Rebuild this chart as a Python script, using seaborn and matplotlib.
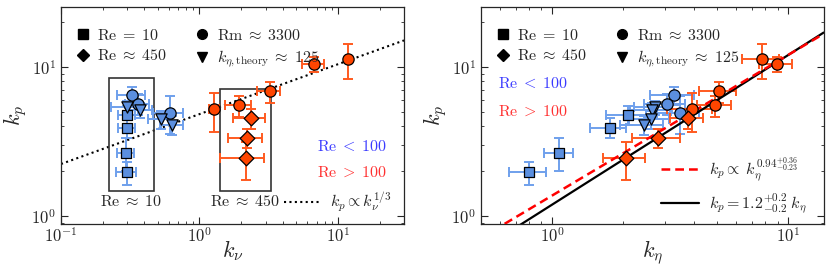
import numpy as np
import pandas as pd
import matplotlib
matplotlib.use("Agg")
import matplotlib.pyplot as plt
import seaborn as sns
from matplotlib.lines import Line2D
from matplotlib.patches import Rectangle

sns.set_style("ticks")
plt.rcParams["font.family"] = "serif"
plt.rcParams["font.serif"] = ["cmr10", "DejaVu Serif"]
plt.rcParams["mathtext.fontset"] = "cm"
plt.rcParams["axes.formatter.use_mathtext"] = True

# --- data ---
group = ["sq", "sq", "sq", "sq",
         "ci_lo", "ci_lo", "ci_lo",
         "tri", "tri", "tri", "tri",
         "ci_hi", "ci_hi", "ci_hi", "ci_hi", "ci_hi",
         "di", "di", "di"]
regime = ["low"] * 11 + ["high"] * 8
k_p = [1.97, 2.67, 3.92, 4.76,
       6.47, 5.64, 4.94,
       5.35, 5.15, 4.45, 4.08,
       5.19, 5.52, 6.85, 10.4, 11.2,
       4.56, 3.35, 2.45]
k_p_err = [0.35, 0.65, 0.6, 0.7,
           0.9, 0.9, 1.4,
           0.6, 0.6, 0.6, 0.6,
           1.5, 0.9, 1.1, 1.2, 2.9,
           0.7, 0.5, 0.7]
k_nu = [0.30, 0.295, 0.30, 0.30,
        0.328, 0.359, 0.615,
        0.30, 0.373, 0.526, 0.635,
        1.28, 1.94, 3.22, 6.70, 11.9,
        2.36, 2.21, 2.15]
k_nu_err = [0.05, 0.04, 0.04, 0.04,
            0.075, 0.07, 0.15,
            0.07, 0.08, 0.1, 0.12,
            0.1, 0.4, 0.6, 1.2, 0.5,
            0.6, 0.6, 0.75]
k_eta = [0.80, 1.07, 1.75, 2.09,
         3.29, 3.06, 3.48,
         2.73, 2.64, 2.61, 2.44,
         3.90, 4.91, 5.10, 8.93, 7.77,
         3.77, 2.82, 2.06]
k_eta_err = [0.14, 0.15, 0.3, 0.4,
             0.7, 0.6, 0.7,
             0.5, 0.5, 0.5, 0.5,
             0.85, 0.8, 0.9, 1.4, 1.4,
             0.6, 0.65, 0.42]

fit_x = [0.1, 30.0]
fit_eta = [0.5, 14.1]

df = pd.DataFrame(dict(group=group, regime=regime, k_p=k_p, k_p_err=k_p_err,
                       k_nu=k_nu, k_nu_err=k_nu_err, k_eta=k_eta, k_eta_err=k_eta_err))

fill = {"low": "#5b8fdf", "high": "#ff4500"}
ebar = {"low": "#6fa0ec", "high": "#ff5a1f"}
markers = {"sq": "s", "ci_lo": "o", "tri": "v", "ci_hi": "o", "di": "D"}
msize = {"sq": 58, "ci_lo": 66, "tri": 66, "ci_hi": 66, "di": 56}
FS = 11.5

fig = plt.figure(figsize=(8.31, 2.78), dpi=100)
ax1 = fig.add_axes([0.0734, 0.194, 0.4128, 0.780])
ax2 = fig.add_axes([0.5788, 0.194, 0.4123, 0.780])


def draw(ax, xcol, xerr):
    for reg in ["low", "high"]:
        sub = df[df.regime == reg]
        ax.errorbar(sub[xcol], sub.k_p, xerr=sub[xerr], yerr=sub.k_p_err, fmt="none",
                    ecolor=ebar[reg], elinewidth=1.4, capsize=3.5, capthick=1.4, zorder=2)
    for g in markers:
        sub = df[df.group == g]
        sns.scatterplot(data=sub, x=xcol, y="k_p", ax=ax, marker=markers[g], s=msize[g],
                        color=fill[sub.regime.iloc[0]], edgecolor="black", linewidth=0.9,
                        zorder=3, legend=False)


def style(ax):
    ax.set_xscale("log")
    ax.set_yscale("log")
    ax.tick_params(which="both", direction="in", top=True, right=True, labelsize=12)
    ax.tick_params(axis="x", pad=1.5)
    ax.tick_params(which="major", length=5)
    ax.tick_params(which="minor", length=2.5)
    for s in ax.spines.values():
        s.set_linewidth(0.9)


def marker_legend(ax):
    h = [Line2D([], [], ls="none", marker="s", color="black", ms=6.5),
         Line2D([], [], ls="none", marker="D", color="black", ms=6.5),
         Line2D([], [], ls="none", marker="o", color="black", ms=7),
         Line2D([], [], ls="none", marker="v", color="black", ms=7)]
    lab = [r"$\mathrm{Re}\;=\;10$", r"$\mathrm{Re}\;\approx\;450$",
           r"$\mathrm{Rm}\;\approx\;3300$", r"$k_{\eta,\mathrm{theory}}\;\approx\;125$"]
    leg = ax.legend(h, lab, ncol=2, loc="upper left", bbox_to_anchor=(0.04, 0.905),
                    frameon=False, fontsize=FS, handletextpad=0.4, columnspacing=1.7,
                    handlelength=1.0, borderaxespad=0.0, borderpad=0.0, labelspacing=0.35)
    ax.add_artist(leg)


# left panel
draw(ax1, "k_nu", "k_nu_err")
style(ax1)
xx = np.geomspace(fit_x[0], fit_x[1], 50)
ax1.plot(xx, 4.83 * xx ** (1 / 3), ls=(0, (1, 1.6)), color="black", lw=1.5, zorder=1)
ax1.add_patch(Rectangle((0.222, 1.47), 0.469 - 0.222, 8.45 - 1.47, fill=False,
                        ec="#333333", lw=1.2, zorder=1))
ax1.add_patch(Rectangle((1.40, 1.47), 3.26 - 1.40, 7.06 - 1.47, fill=False,
                        ec="#333333", lw=1.2, zorder=1))
ax1.text(np.sqrt(0.222 * 0.469), 1.25, r"$\mathrm{Re}\;\approx\;10$", ha="center", va="center", fontsize=FS)
ax1.text(np.sqrt(1.40 * 3.26), 1.25, r"$\mathrm{Re}\;\approx\;450$", ha="center", va="center", fontsize=FS)
ax1.text(0.95, 0.36, r"$\mathrm{Re}\;<\;100$", color="#3b3bff", transform=ax1.transAxes,
         ha="right", va="center", fontsize=FS)
ax1.text(0.95, 0.235, r"$\mathrm{Re}\;>\;100$", color="#ff3030", transform=ax1.transAxes,
         ha="right", va="center", fontsize=FS)
marker_legend(ax1)
ax1.legend([Line2D([], [], ls=(0, (1, 1.6)), color="black", lw=1.5)],
           [r"$k_p\propto k_\nu^{1/3}$"], loc="center right", bbox_to_anchor=(0.965, 0.10),
           frameon=False, fontsize=FS, handlelength=2.3, handletextpad=0.6,
           borderaxespad=0.0, borderpad=0.0)
ax1.set_xlim(0.1, 30)
ax1.set_ylim(0.89, 25)
ax1.set_xlabel(r"$k_\nu$", fontsize=16, labelpad=-5)
ax1.set_ylabel(r"$k_p$", fontsize=16, labelpad=1.5)

# right panel
draw(ax2, "k_eta", "k_eta_err")
style(ax2)
ee = np.geomspace(fit_eta[0], fit_eta[1], 50)
l1, = ax2.plot(ee, 1.38 * ee ** 0.94, ls=(0, (3.5, 2)), color="red", lw=1.8, zorder=2.6)
l2, = ax2.plot(ee, 1.2 * ee, ls="-", color="black", lw=1.6, zorder=2.5)
marker_legend(ax2)
ax2.legend([l1, l2], [r"$k_p\propto\;k_\eta^{0.94^{+0.36}_{-0.23}}$",
                      r"$k_p=1.2^{+0.2}_{-0.2}\;k_\eta$"],
           loc="center right", bbox_to_anchor=(0.95, 0.175),
           frameon=False, fontsize=FS, handlelength=2.4, handletextpad=0.6,
           borderaxespad=0.0, borderpad=0.0, labelspacing=0.45)
ax2.text(0.05, 0.65, r"$\mathrm{Re}\;<\;100$", color="#3b3bff", transform=ax2.transAxes,
         ha="left", va="center", fontsize=FS)
ax2.text(0.05, 0.52, r"$\mathrm{Re}\;>\;100$", color="#ff3030", transform=ax2.transAxes,
         ha="left", va="center", fontsize=FS)
ax2.set_xlim(0.5, 14.1)
ax2.set_ylim(0.89, 25)
ax2.set_xlabel(r"$k_\eta$", fontsize=16, labelpad=-5)
ax2.set_ylabel(r"$k_p$", fontsize=16, labelpad=1.5)

fig.savefig("out.png", dpi=100)
